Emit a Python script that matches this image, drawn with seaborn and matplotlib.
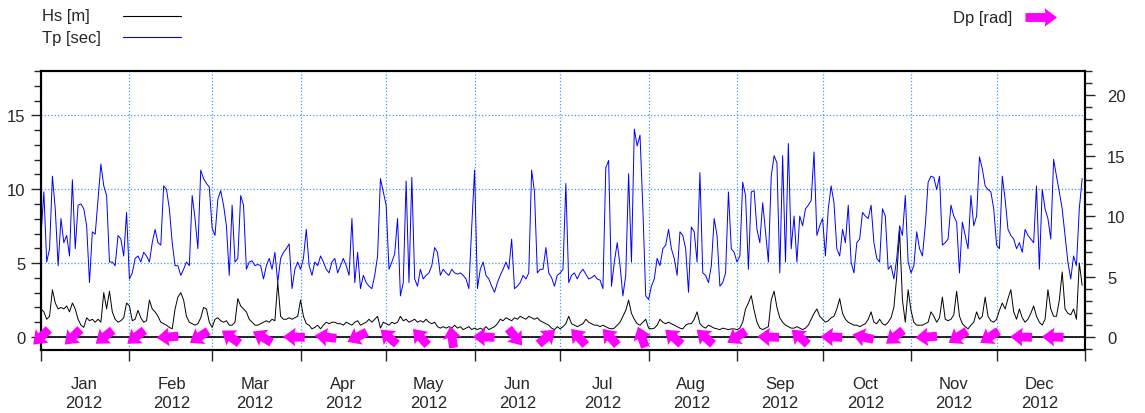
import numpy as np
import pandas as pd
import matplotlib
matplotlib.use("Agg")
import matplotlib.pyplot as plt
import matplotlib.dates as mdates
from matplotlib.lines import Line2D
from matplotlib.ticker import MultipleLocator
import seaborn as sns

# daily values for 2012
hs = [1.9, 1.7, 1.2, 1.4, 3.2, 2.3, 1.9, 2.0, 1.9, 2.1, 1.7, 2.3, 1.9, 1.2, 0.8, 0.65, 1.3, 1.1, 1.2, 1.0,
      1.2, 1.0, 3.0, 1.9, 3.1, 1.7, 1.2, 1.0, 1.1, 1.3, 2.3, 2.1, 1.1, 1.2, 1.8, 1.3, 1.0, 1.1, 2.5, 1.9,
      1.7, 1.4, 1.0, 0.9, 0.8, 0.65, 0.55, 1.9, 2.7, 3.0, 2.5, 1.4, 1.0, 0.9, 0.8, 0.9, 1.3, 2.0, 1.9, 1.0,
      0.65, 1.2, 1.3, 1.1, 1.0, 1.1, 0.8, 0.8, 1.0, 2.6, 2.1, 1.9, 1.7, 1.2, 1.0, 0.8, 0.8, 0.9, 1.0, 1.1,
      1.0, 1.2, 1.1, 3.7, 1.4, 1.2, 1.2, 1.3, 1.2, 1.3, 1.4, 2.5, 1.4, 0.9, 0.8, 0.55, 0.65, 0.8, 0.55, 0.8,
      1.0, 0.9, 1.0, 1.0, 0.9, 0.9, 0.8, 1.0, 0.9, 0.8, 1.0, 1.1, 0.8, 0.9, 1.0, 1.2, 1.0, 1.2, 1.4, 0.6,
      1.0, 0.9, 0.8, 1.0, 0.9, 1.0, 1.4, 1.1, 1.2, 1.0, 1.1, 1.2, 1.0, 1.1, 1.0, 1.2, 1.0, 0.9, 1.0, 0.7,
      0.6, 0.7, 0.6, 0.7, 0.6, 0.8, 0.6, 0.7, 0.5, 0.6, 0.7, 0.5, 0.6, 0.5, 0.6, 0.5, 0.7, 0.5, 0.6, 0.7,
      0.9, 1.2, 1.1, 1.3, 1.2, 1.1, 1.3, 1.2, 1.4, 1.3, 1.2, 1.4, 1.3, 1.2, 1.3, 1.1, 1.0, 0.9, 0.8, 0.6,
      0.5, 0.7, 0.55, 0.7, 0.9, 1.4, 0.9, 0.8, 0.7, 0.8, 0.9, 1.2, 1.0, 0.9, 0.8, 0.8, 0.7, 0.8, 0.7, 0.6,
      0.55, 0.6, 0.8, 1.0, 1.4, 1.8, 2.5, 1.6, 1.2, 0.9, 0.8, 1.0, 1.2, 0.6, 0.55, 0.6, 0.8, 1.2, 1.0, 0.9,
      1.0, 0.9, 0.8, 0.7, 0.6, 0.55, 0.8, 0.9, 0.9, 1.2, 1.7, 0.9, 0.7, 0.6, 0.8, 0.7, 0.6, 0.55, 0.5, 0.6,
      0.55, 0.5, 0.55, 0.55, 0.5, 0.6, 1.0, 1.9, 2.3, 2.8, 1.8, 1.0, 0.6, 0.5, 0.6, 0.7, 2.5, 3.1, 2.0, 1.3,
      1.0, 0.8, 0.7, 0.6, 0.6, 0.7, 0.6, 0.5, 0.6, 0.8, 1.2, 1.6, 1.9, 1.4, 1.2, 1.0, 1.1, 1.3, 1.4, 1.9,
      2.6, 1.6, 1.2, 1.0, 0.9, 0.8, 0.8, 0.7, 0.8, 0.9, 1.2, 1.7, 1.0, 0.9, 1.2, 0.9, 0.8, 1.0, 1.3, 2.0,
      4.1, 7.2, 2.5, 1.0, 3.2, 1.8, 1.0, 0.8, 0.8, 0.8, 0.9, 1.0, 1.7, 1.4, 1.0, 1.3, 2.7, 1.2, 1.1, 1.2,
      1.5, 3.1, 1.4, 0.9, 0.7, 0.55, 0.8, 1.0, 1.7, 1.2, 1.4, 2.7, 1.4, 1.1, 1.0, 1.2, 1.8, 2.3, 1.9, 2.6,
      3.2, 1.7, 1.2, 1.9, 1.3, 1.0, 1.2, 1.6, 2.1, 1.4, 1.0, 0.8, 1.2, 3.2, 1.9, 1.4, 1.4, 2.5, 4.4, 1.9,
      1.6, 1.5, 1.9, 1.2, 5.0, 3.5]

tp = [8.4, 12.0, 6.2, 7.3, 13.3, 10.6, 5.9, 9.8, 7.8, 8.4, 6.7, 13.0, 7.3, 10.9, 11.0, 10.6, 9.2, 4.5, 8.7, 8.5,
      11.4, 14.3, 12.5, 11.7, 6.2, 6.2, 5.9, 8.4, 8.1, 6.7, 10.3, 4.8, 5.3, 6.5, 6.7, 6.2, 7.0, 6.7, 6.2, 7.8,
      8.9, 7.8, 7.6, 12.5, 12.2, 10.6, 7.8, 5.9, 5.9, 5.1, 5.6, 6.2, 5.9, 11.7, 9.8, 7.3, 13.8, 13.1, 12.7, 12.4,
      9.0, 8.4, 11.4, 12.1, 10.9, 9.2, 5.1, 10.9, 6.2, 6.5, 11.7, 10.9, 5.6, 6.2, 6.3, 5.9, 6.0, 5.9, 4.8, 5.9,
      6.5, 5.6, 7.0, 4.5, 6.5, 7.0, 7.3, 7.7, 4.0, 5.6, 6.2, 5.6, 6.5, 8.9, 5.9, 5.1, 6.2, 5.9, 6.7, 6.2,
      5.6, 5.3, 6.2, 6.5, 5.3, 5.9, 6.5, 5.9, 5.1, 9.8, 4.5, 7.0, 4.0, 5.1, 4.5, 4.2, 4.0, 5.1, 6.7, 13.1,
      12.0, 10.9, 5.6, 6.2, 6.9, 9.8, 3.4, 4.5, 12.9, 4.5, 13.2, 4.8, 4.2, 5.6, 4.8, 5.1, 5.3, 5.9, 7.4, 7.0,
      5.1, 5.6, 5.3, 5.1, 5.6, 5.3, 5.2, 5.3, 5.1, 4.8, 4.0, 9.1, 13.8, 4.0, 5.6, 6.2, 5.1, 4.8, 4.2, 3.7,
      4.5, 5.1, 5.6, 6.2, 5.6, 8.1, 4.0, 4.2, 4.5, 5.1, 4.8, 5.3, 13.8, 12.0, 5.3, 5.6, 5.6, 7.4, 5.3, 4.9,
      4.2, 5.1, 5.3, 5.6, 12.7, 4.5, 5.1, 5.3, 4.8, 5.3, 5.6, 5.2, 4.8, 4.9, 5.1, 4.8, 4.7, 4.0, 14.0, 14.6,
      4.2, 6.2, 7.8, 5.9, 3.4, 5.1, 13.5, 6.2, 17.2, 15.8, 16.7, 10.6, 3.4, 3.1, 4.2, 4.8, 6.5, 5.9, 7.3, 7.6,
      8.9, 7.3, 6.5, 5.1, 8.7, 8.4, 7.3, 3.7, 9.1, 8.7, 6.2, 13.6, 5.3, 5.1, 4.5, 5.9, 9.8, 8.4, 4.2, 4.5,
      5.3, 12.0, 7.3, 7.0, 6.2, 6.7, 12.8, 11.7, 5.6, 12.0, 12.1, 8.9, 7.8, 11.1, 8.7, 6.2, 13.3, 15.0, 14.4, 5.3,
      15.0, 6.2, 16.0, 7.3, 10.0, 6.2, 10.0, 9.2, 10.6, 10.9, 11.3, 15.3, 8.4, 9.2, 9.8, 6.7, 10.6, 12.5, 11.1, 7.3,
      6.7, 8.9, 7.8, 10.9, 6.2, 5.3, 7.8, 8.1, 10.3, 10.0, 9.8, 10.9, 7.8, 6.5, 6.2, 10.6, 10.0, 5.6, 5.9, 4.8,
      6.5, 9.2, 8.4, 11.7, 6.2, 5.3, 5.9, 8.7, 7.3, 6.7, 9.2, 12.8, 13.3, 13.2, 12.2, 13.3, 7.6, 7.8, 8.1, 10.9,
      10.0, 9.5, 5.3, 9.5, 8.4, 7.3, 11.7, 9.2, 10.0, 14.9, 13.9, 12.5, 12.2, 12.0, 10.6, 7.6, 7.3, 13.3, 11.4, 8.9,
      8.4, 8.1, 7.3, 7.8, 7.0, 8.9, 8.4, 8.1, 7.8, 12.5, 5.6, 12.2, 10.6, 9.8, 8.1, 14.7, 13.3, 12.0, 10.6, 8.4,
      6.2, 4.8, 6.7, 5.9, 10.6, 13.1]

# peak direction, one arrow roughly every 11 days
dp = [0.8, 0.8, 0.9, 0.9, 1.5, 1.0, 2.2, 2.1, 1.6, 1.7, 1.1, 2.3, 2.4, 3.0, 1.6, 5.6, 4.0,
      2.4, 2.4, 2.8, 2.3, 2.3, 1.0, 1.6, 2.3, 1.6, 1.8, 0.9, 1.5, 1.0, 1.0, 1.6, 1.6]

dates = pd.date_range("2012-01-01", periods=len(hs), freq="D")
dp_dates = pd.date_range("2012-01-01", periods=len(dp), freq="266h")
df = pd.DataFrame({"date": dates, "Hs": hs, "Tp": tp})

sns.set_style("ticks")
plt.rcParams["font.family"] = ["Liberation Sans", "DejaVu Sans"]
plt.rcParams["font.size"] = 12

fig = plt.figure(figsize=(11.45, 4.14), dpi=100)
ax = fig.add_axes([41 / 1145, 1 - 351 / 414, 1044 / 1145, 279 / 414])
ax2 = ax.twinx()

grid_col = "#3c9cff"
ax.axhline(0, color="black", lw=1.2, zorder=1)
sns.lineplot(data=df, x="date", y="Hs", ax=ax, color="black", lw=0.7, zorder=2)
sns.lineplot(data=df, x="date", y="Tp", ax=ax2, color="#0000ff", lw=0.7, zorder=2)

# direction arrows along zero
dp_arr = np.array(dp)
u = -np.sin(dp_arr)
v = -np.cos(dp_arr)
q = ax2.quiver(mdates.date2num(dp_dates), np.zeros(len(dp)), u, v, color="#ff00ff",
               angles="uv", scale_units="inches", scale=4.6, pivot="middle",
               width=0.0085, headwidth=2.1, headlength=1.4, headaxislength=1.3, zorder=5,
               clip_on=False)
ax2.quiverkey(q, 1025 / 1145, 1 - 18 / 414, 1.45, "Dp [rad]", labelpos="W",
              coordinates="figure", labelsep=0.13, fontproperties={"size": 12})

ax.set_xlim(pd.Timestamp("2012-01-01"), pd.Timestamp("2013-01-01"))
ax.set_ylim(-0.88, 18)
ax2.set_ylim(-0.88 * 22 / 18, 22)

ax.xaxis.set_major_locator(mdates.MonthLocator())
ax.xaxis.set_major_formatter(plt.NullFormatter())
ax.xaxis.set_minor_locator(mdates.MonthLocator(bymonthday=16))
ax.xaxis.set_minor_formatter(mdates.DateFormatter("%b\n%Y"))
ax.tick_params(axis="x", which="major", length=8, width=1, direction="out")
ax.tick_params(axis="x", which="minor", length=0, pad=19, labelsize=12)

ax.yaxis.set_major_locator(MultipleLocator(5))
ax.yaxis.set_minor_locator(MultipleLocator(1))
ax2.yaxis.set_major_locator(MultipleLocator(5))
ax2.yaxis.set_minor_locator(MultipleLocator(1))
for a in (ax, ax2):
    a.tick_params(axis="y", which="major", length=7, width=1, labelsize=12)
    a.tick_params(axis="y", which="minor", length=5, width=1)
ax.tick_params(axis="y", which="major", pad=4)
ax2.tick_params(axis="y", which="major", pad=9)

ax.grid(True, which="major", color=grid_col, linestyle=":", lw=0.9)
ax.set_xlabel("")
ax.set_ylabel("")
ax2.set_ylabel("")
for a in (ax, ax2):
    for s in a.spines.values():
        s.set_linewidth(1.5)
        s.set_color("black")

# legend on the top left: label first, line after it
for y_px, lab, col in [(17, "Hs [m]", "black"), (38, "Tp [sec]", "#0000ff")]:
    yf = 1 - y_px / 414
    fig.text(42 / 1145, yf, lab, ha="left", va="center", fontsize=12)
    fig.add_artist(Line2D([123 / 1145, 181 / 1145], [yf, yf], color=col, lw=0.8,
                          transform=fig.transFigure))

fig.canvas.draw()
for lab in ax.get_xticklabels(minor=True):
    lab.set_linespacing(1.3)

fig.savefig("out.png", dpi=100)
